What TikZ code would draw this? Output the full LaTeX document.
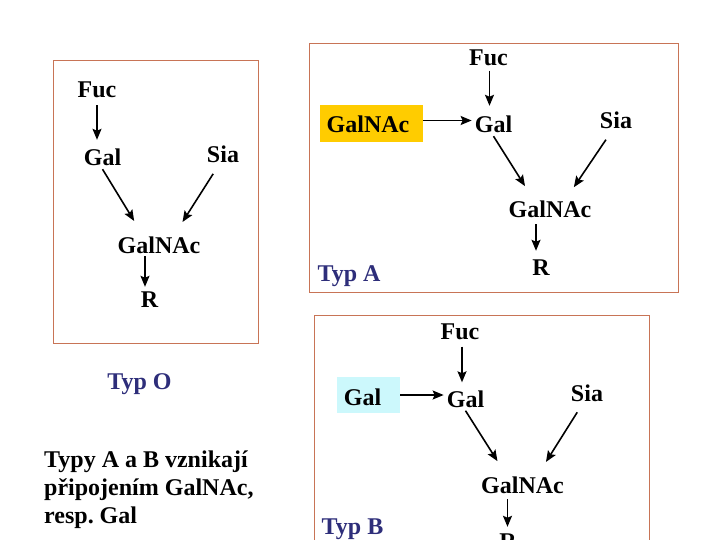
\documentclass[tikz,border=0pt]{standalone}
\usepackage{fontspec}
\setmainfont{Liberation Serif}
\usetikzlibrary{arrows.meta}
\definecolor{frame}{HTML}{C87456}
\definecolor{typc}{HTML}{2E2E7A}
\definecolor{yel}{HTML}{FFCC00}
\definecolor{cyn}{HTML}{CCF8FC}
\frenchspacing
\tikzset{
  lbl/.style={font=\fontsize{24}{28.8}\selectfont\bfseries, inner sep=3pt, text height=16pt, text depth=0pt, anchor=center},
  typ/.style={font=\fontsize{24}{28.8}\selectfont\bfseries, text=typc, inner sep=0pt, anchor=base},
  box/.style={draw=frame, line width=0.9pt},
  arr/.style={-{Stealth[length=11pt,width=9pt,inset=2pt]}, line width=1.6pt},
  dl/.style={arr, shorten >=15pt},
  dr/.style={arr, shorten <=9pt, shorten >=14pt},
}
\begin{document}
\begin{tikzpicture}[x=1pt,y=-1pt]
\useasboundingbox (0,0) rectangle (720,540);
% ---- Box 1 (Typ O)
\draw[box] (53,60) rectangle (258,343);
\node[lbl] (fuc1) at (97,90) {Fuc};
\node[lbl] (gal1) at (102.5,158) {Gal};
\node[lbl] (sia1) at (223,155) {Sia};
\node[lbl] (gn1) at (159,245) {GalNAc};
\node[lbl] (r1) at (149.5,299) {R};
\draw[arr, shorten <=4pt, shorten >=7pt] (fuc1.south) -- (fuc1.south |- gal1.north);
\draw[dl] (gal1.south) -- ([xshift=-17pt]gn1.north);
\draw[dr] ([xshift=-5pt]sia1.south) -- ([xshift=16pt]gn1.north);
\draw[arr, shorten >=1pt] ([xshift=-14pt]gn1.south) -- ([xshift=-14pt]gn1.south |- r1.north);
\node[typ] (typo) at (139.5,389) {Typ O};
\node[font=\fontsize{24}{28}\selectfont\bfseries, align=left, anchor=base west, inner sep=0pt] (txt) at (44,523)
  {Typy A a B vznikají\\připojením GalNAc,\\resp. Gal};
% ---- Box 2 (Typ A)
\draw[box] (309,43) rectangle (678,292);
\node[lbl, fill=yel, minimum width=103pt, minimum height=37pt] (ygn) at (371.5,123.5) {};
\node[lbl] (ygnt) at (368,125) {GalNAc};
\node[lbl] (fuc2) at (488.5,57.5) {Fuc};
\node[lbl] (gal2) at (493.5,125) {Gal};
\node[lbl] (sia2) at (616,121) {Sia};
\node[lbl] (gn2) at (550,210) {GalNAc};
\node[lbl] (r2) at (541,267) {R};
\draw[arr, shorten <=2pt, shorten >=8pt] ([xshift=1pt]fuc2.south) -- ([xshift=1pt]fuc2.south |- gal2.north);
\draw[arr] ([yshift=3pt]ygn.east) -- ([yshift=3pt]ygn.east -| gal2.west);
\draw[dl] (gal2.south) -- ([xshift=-17pt]gn2.north);
\draw[dr] ([xshift=-5pt]sia2.south) -- ([xshift=16pt]gn2.north);
\draw[arr, shorten <=3pt, shorten >=5pt] ([xshift=-14pt]gn2.south) -- ([xshift=-14pt]gn2.south |- r2.north);
\node[typ] (typa) at (349,281) {Typ A};
% ---- Box 3 (Typ B)
\draw[box] (314,315) -- (314,545) (314,315) -- (649,315) -- (649,545);
\node[lbl, fill=cyn, minimum width=63pt, minimum height=36pt] (cgal) at (368.5,395) {};
\node[lbl] (cgalt) at (362.5,397.5) {Gal};
\node[lbl] (fuc3) at (460,331.5) {Fuc};
\node[lbl] (gal3) at (465.5,399.5) {Gal};
\node[lbl] (sia3) at (587,393.5) {Sia};
\node[lbl] (gn3) at (522.5,485) {GalNAc};
\node[lbl] (r3) at (508,541) {R};
\draw[arr, shorten <=4pt, shorten >=6pt] ([xshift=2pt]fuc3.south) -- ([xshift=2pt]fuc3.south |- gal3.north);
\draw[arr] (cgal.east) -- (cgal.east -| gal3.west);
\draw[dl] (gal3.south) -- ([xshift=-17pt]gn3.north);
\draw[dr] ([xshift=-5pt]sia3.south) -- ([xshift=16pt]gn3.north);
\draw[arr, shorten <=3pt, shorten >=3pt] ([xshift=-15pt]gn3.south) -- ([xshift=-15pt]gn3.south |- r3.north);
\node[typ] (typb) at (352.5,534) {Typ B};
\end{tikzpicture}
\end{document}
